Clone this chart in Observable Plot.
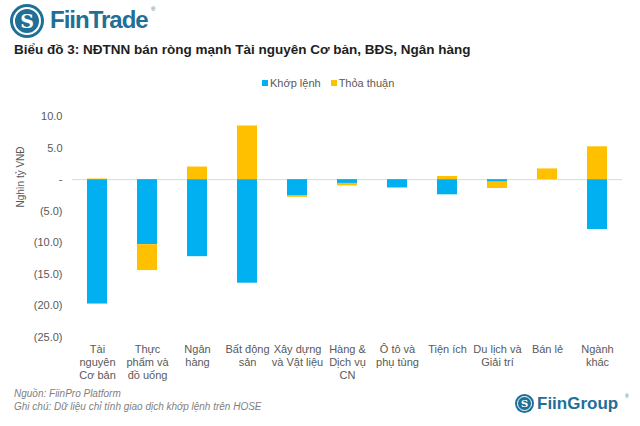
<!DOCTYPE html>
<html>
<head>
<meta charset="utf-8">
<script src="https://cdn.jsdelivr.net/npm/d3@7"></script>
<script src="https://cdn.jsdelivr.net/npm/@observablehq/plot@0.6"></script>
<style>
  html, body { margin: 0; padding: 0; background: #fff; }
  #wrap { position: relative; width: 640px; height: 426px; overflow: hidden; font-family: "Liberation Sans", Arial, sans-serif; }
  .abs { position: absolute; }
  .logo-circle { border-radius: 50%; background: #1f6f97; display: flex; align-items: center; justify-content: center; box-sizing: border-box; }
  .logo-inner { border-radius: 50%; border: 2px solid #fff; display: flex; align-items: center; justify-content: center; box-sizing: border-box; color: #fff; font-family: "DejaVu Serif", serif; font-weight: bold; }
  #title { left: 14px; top: 42px; font-size: 13.5px; font-weight: bold; color: #1e1e1e; white-space: nowrap; }
  #legend { top: 77px; left: 262px; font-size: 11px; color: #595959; display: flex; gap: 10px; white-space: nowrap; }
  #legend span.sw { display: inline-block; width: 6px; height: 6px; margin-right: 2px; vertical-align: 1px; }
  #ytitle { left: 20px; top: 177px; transform: translate(-50%, -50%) rotate(-90deg); font-size: 10px; color: #595959; white-space: nowrap; }
  #chart { left: 0; top: 95px; }
  #foot { left: 14px; top: 387px; font-size: 10px; font-style: italic; color: #7f7f7f; line-height: 13px; }
</style>
</head>
<body>
<div id="wrap">
  <div class="abs logo-circle" style="left:10px;top:4px;width:34px;height:34px;">
    <div class="logo-inner" style="width:28px;height:28px;font-size:19px;">S</div>
  </div>
  <div class="abs" style="left:50px;top:6px;font-size:24px;font-weight:bold;color:#1f6f97;letter-spacing:-1px;">FiinTrade</div>
  <div class="abs" style="left:151px;top:6px;font-size:6px;color:#1f6f97;">®</div>

  <div id="title" class="abs">Biểu đồ 3: NĐTNN bán ròng mạnh Tài nguyên Cơ bản, BĐS, Ngân hàng</div>

  <div id="legend" class="abs">
    <div><span class="sw" style="background:#00b0f0"></span>Khớp lệnh</div>
    <div><span class="sw" style="background:#ffc000"></span>Thỏa thuận</div>
  </div>

  <div id="ytitle" class="abs">Nghìn tỷ VNĐ</div>
  <div id="chart" class="abs"></div>

  <div id="foot" class="abs">Nguồn: FiinPro Platform<br>Ghi chú: Dữ liệu chỉ tính giao dịch khớp lệnh trên HOSE</div>

  <div class="abs logo-circle" style="left:515px;top:394px;width:19px;height:19px;">
    <div class="logo-inner" style="width:15px;height:15px;font-size:10px;border-width:1.5px;">S</div>
  </div>
  <div class="abs" style="left:537px;top:394px;font-size:17px;font-weight:bold;color:#1f6f97;">FiinGroup</div>
  <div class="abs" style="left:625px;top:393px;font-size:5px;color:#1f6f97;">®</div>
</div>
<script>
const categories = [
  "Tài\nnguyên\nCơ bản",
  "Thực\nphẩm và\nđồ uống",
  "Ngân\nhàng",
  "Bất động\nsản",
  "Xây dựng\nvà Vật liệu",
  "Hàng &\nDịch vụ\nCN",
  "Ô tô và\nphụ tùng",
  "Tiện ích",
  "Du lịch và\nGiải trí",
  "Bán lẻ",
  "Ngành\nkhác"
];
const khopLenh  = [-19.7, -10.3, -12.2, -16.4, -2.6, -0.6, -1.3, -2.4, -0.4, 0.0, -7.9];
const thoaThuan = [0.1, -4.1, 2.0, 8.5, -0.2, -0.4, -0.1, 0.5, -1.0, 1.7, 5.2];
const seriesNames = ["Khớp lệnh", "Thỏa thuận"];
const seriesColors = ["#00b0f0", "#ffc000"];
const yTicks = [-25, -20, -15, -10, -5, 0, 5, 10];

const data = [];
categories.forEach((c, i) => {
  data.push({cat: c, series: seriesNames[0], value: khopLenh[i]});
  data.push({cat: c, series: seriesNames[1], value: thoaThuan[i]});
});

const fmt = v => v === 0 ? "-" : (v < 0 ? "(" + Math.abs(v).toFixed(1) + ")" : v.toFixed(1));

const chart = Plot.plot({
  width: 640,
  height: 290,
  marginLeft: 72,
  marginRight: 18,
  marginTop: 21,
  marginBottom: 48,
  style: {fontFamily: "'Liberation Sans', Arial, sans-serif", fontSize: "11px", color: "#595959", background: "transparent"},
  x: {domain: categories, paddingInner: 0.6, paddingOuter: 0.3, label: null, axis: null},
  y: {domain: [-25, 10], label: null, axis: null},
  color: {domain: seriesNames, range: seriesColors},
  marks: [
    Plot.axisY({ticks: yTicks, tickFormat: fmt, tickSize: 0, tickPadding: 10, label: null, fontSize: 11}),
    Plot.axisX({tickSize: 0, tickPadding: 7, label: null, lineHeight: 1.15, fontSize: 11}),
    Plot.ruleY([0], {stroke: "#d9d9d9", strokeWidth: 1}),
    Plot.barY(data, Plot.stackY({x: "cat", y: "value", fill: "series", order: seriesNames}))
  ]
});
document.getElementById("chart").appendChild(chart);
</script>
</body>
</html>
